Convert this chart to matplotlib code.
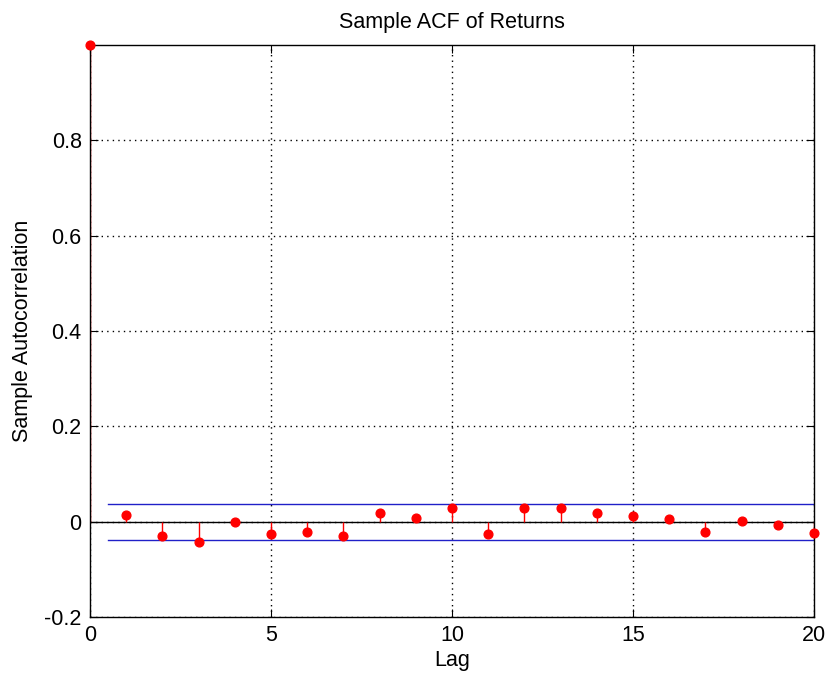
import numpy as np
import matplotlib
matplotlib.use('Agg')
import matplotlib.pyplot as plt

plt.rcParams['font.family'] = ['Liberation Sans', 'DejaVu Sans']

# sample autocorrelation by lag
lags = list(range(21))
acf = [1.0, 0.014, -0.030, -0.042, -0.001, -0.026, -0.022, -0.030,
       0.019, 0.007, 0.028, -0.026, 0.028, 0.028, 0.019, 0.011,
       0.005, -0.021, 0.001, -0.007, -0.024]
bound = 0.0375  # confidence bounds
bound_start = 0.5

fig = plt.figure(figsize=(8.28, 6.77), dpi=100)
ax = fig.add_axes([0.1087, 0.0886, 0.8744, 0.8449])

ax.axhline(0, color='black', lw=1, zorder=2)
ax.vlines(lags, 0, acf, color='red', lw=1, zorder=3)
ax.plot(lags, acf, 'o', color='red', ms=6.3, zorder=4, clip_on=False)
ax.plot([bound_start, lags[-1]], [bound, bound], color='#2020c8', lw=1, zorder=2)
ax.plot([bound_start, lags[-1]], [-bound, -bound], color='#2020c8', lw=1, zorder=2)

ax.set_xlim(0, 20)
ax.set_ylim(-0.2, 1.0)
ax.set_xticks([0, 5, 10, 15, 20])
ax.set_yticks([-0.2, 0, 0.2, 0.4, 0.6, 0.8])
ax.set_yticklabels(['-0.2', '0', '0.2', '0.4', '0.6', '0.8'])
ax.grid(True, linestyle=(0, (1, 3)), color='black', lw=1)
ax.tick_params(direction='in', length=6, labelsize=15.5, top=True, right=True)
ax.tick_params(axis='y', pad=6)
ax.tick_params(axis='x', pad=5.5)
for s in ax.spines.values():
    s.set_linewidth(1)
    s.set_zorder(3.5)

ax.set_title('Sample ACF of Returns', fontsize=15.5, pad=12)
ax.set_xlabel('Lag', fontsize=15.5, labelpad=3)
ax.set_ylabel('Sample Autocorrelation', fontsize=15.5, labelpad=8)

fig.savefig('out.png', dpi=100)
